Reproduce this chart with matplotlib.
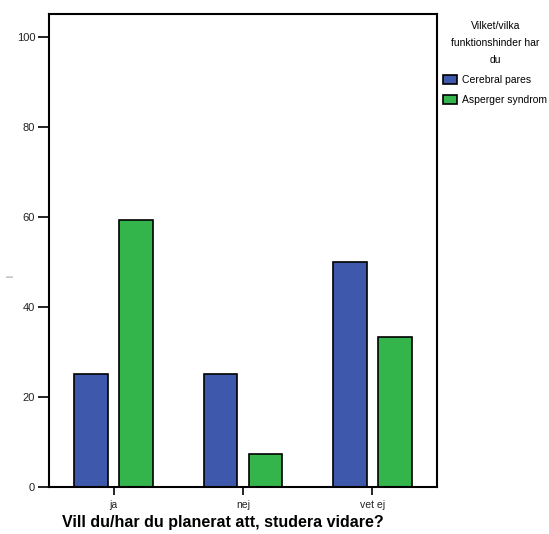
import matplotlib
matplotlib.use("Agg")
import matplotlib.pyplot as plt
import numpy as np

plt.rcParams['font.family'] = ['Liberation Sans', 'DejaVu Sans']

categories = ["ja", "nej", "vet ej"]
series_names = ["Cerebral pares", "Asperger syndrom"]
cerebral = [25.0, 25.0, 50.0]
asperger = [59.3, 7.4, 33.3]
colors = ["#3e58ac", "#33b54b"]
yticks = [0, 20, 40, 60, 80, 100]

fig = plt.figure(figsize=(5.49, 5.34), dpi=100)
W, H = 549, 534
ax = fig.add_axes([49 / W, 1 - 487 / H, (437 - 49) / W, (487 - 14) / H])

x = np.arange(len(categories))
w = 0.26
off = 0.175
ax.bar(x - off, cerebral, width=w, color=colors[0], edgecolor="black", linewidth=1.2, label=series_names[0])
ax.bar(x + off, asperger, width=w, color=colors[1], edgecolor="black", linewidth=1.2, label=series_names[1])

ax.set_xlim(-0.5, 2.5)
ax.set_ylim(0, 105.1)
ax.set_xticks(x)
ax.set_xticklabels(categories, fontsize=7.5, color="#222222")
ax.set_yticks(yticks)
ax.set_yticklabels([str(v) for v in yticks], fontsize=8, color="#222222")
ax.tick_params(axis='y', length=8, width=1.2, pad=2)
ax.tick_params(axis='x', length=6, width=1.2, pad=3)
for s in ax.spines.values():
    s.set_linewidth(1.5)

fig.text(10 / W, 1 - 276 / H, "|", fontsize=5, color="#666666", rotation=90,
         ha="center", va="center")

fig.text(62 / W, 1 - 523 / H, "Vill du/har du planerat att, studera vidare?",
         fontsize=11.5, fontweight="bold", ha="left", va="center")

leg = ax.legend(loc="upper left", bbox_to_anchor=(441 / W, 1 - 19 / H), bbox_transform=fig.transFigure,
                frameon=False, fontsize=7.5, title="Vilket/vilka\nfunktionshinder har\ndu",
                title_fontsize=7.5, handlelength=1.35, handleheight=1.0, handletextpad=0.5,
                labelspacing=0.95, borderaxespad=0, borderpad=0.2)
leg._legend_box.align = "center"
t = leg.get_title()
t.set_multialignment("center")
t.set_linespacing(1.85)
for p in leg.get_patches():
    p.set_edgecolor("black")

fig.savefig("out.png", dpi=100)
